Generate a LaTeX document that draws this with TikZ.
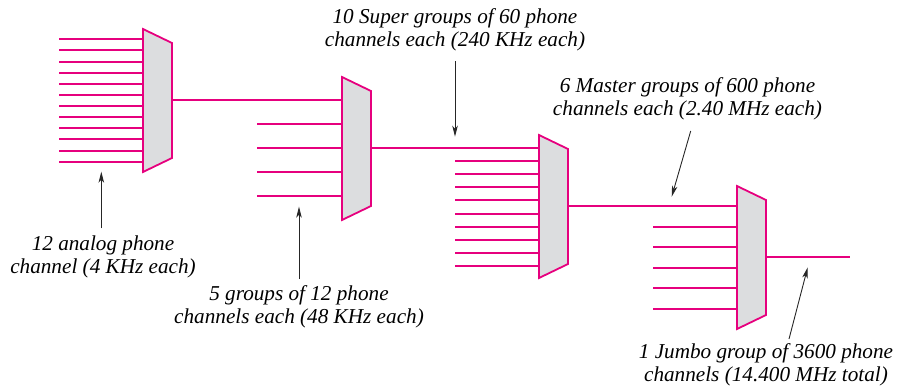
\documentclass[tikz,border=0pt]{standalone}
\usepackage{fontspec}
\setmainfont{Liberation Serif}
\usetikzlibrary{arrows.meta}
\definecolor{mag}{HTML}{E6007E}
\definecolor{muxgray}{HTML}{DCDDDF}
\tikzset{
  chan/.style={draw=mag, line width=1.8pt},
  muxbox/.style={draw=mag, fill=muxgray, line width=1.8pt, line join=miter},
  pointer/.style={draw=black!85, line width=0.9pt, -{Stealth[length=11pt,width=5.5pt,inset=3pt]}},
  lbl/.style={font=\fontsize{21.2}{23}\selectfont\itshape, align=center, inner sep=0pt, anchor=base},
}
% \muxunit{name}{x}{y}: trapezoid, top-left corner at (x,y)
\newcommand{\muxunit}[3]{%
  \coordinate (#1tl) at (#2,#3);
  \coordinate (#1bl) at (#2,#3+143);
  \coordinate (#1tr) at (#2+29,#3+14);
  \coordinate (#1br) at (#2+29,#3+129);
  \coordinate (#1out) at (#2+29,#3+71);
}
\begin{document}
\begin{tikzpicture}[x=1pt,y=-1pt]
\useasboundingbox (0,0) rectangle (904,389);
\muxunit{ma}{143}{29}
\muxunit{mb}{342}{77}
\muxunit{mc}{539}{135}
\muxunit{md}{737}{186}
% inputs of mux 1: 12 analog channels
\foreach \k in {0,...,11} {
  \coordinate (ain\k) at (59, {round(39.3+11.13*\k)});
  \draw[chan] (ain\k) -- (ain\k -| matl);
}
% mux1 -> mux2
\draw[chan] (maout) -- (maout -| mbtl);
\foreach \k in {1,...,4} {
  \coordinate (bin\k) at (257, 100+24*\k);
  \draw[chan] (bin\k) -- (bin\k -| mbtl);
}
% mux2 -> mux3
\draw[chan] (mbout) -- (mbout -| mctl);
\foreach \k in {1,...,9} {
  \coordinate (cin\k) at (455, {round(148+13.1*\k)});
  \draw[chan] (cin\k) -- (cin\k -| mctl);
}
% mux3 -> mux4
\draw[chan] (mcout) -- (mcout -| mdtl);
\foreach \k in {1,...,5} {
  \coordinate (din\k) at (653, {round(206+20.5*\k)});
  \draw[chan] (din\k) -- (din\k -| mdtl);
}
% output
\coordinate (jumbo) at (850, 257);
\draw[chan] (mdout) -- (jumbo);
% multiplexers
\path[muxbox] (matl) -- (matr) -- (mabr) -- (mabl) -- cycle;
\path[muxbox] (mbtl) -- (mbtr) -- (mbbr) -- (mbbl) -- cycle;
\path[muxbox] (mctl) -- (mctr) -- (mcbr) -- (mcbl) -- cycle;
\path[muxbox] (mdtl) -- (mdtr) -- (mdbr) -- (mdbl) -- cycle;
% labels (anchor = baseline of the last line)
\node[lbl] (t1) at (103, 273) {12 analog phone\\channel (4 KHz each)};
\node[lbl] (t2) at (299, 323.3) {5 groups of 12 phone\\channels each (48 KHz each)};
\node[lbl] (t3) at (455, 46.7) {10 Super groups of 60 phone\\channels each (240 KHz each)};
\node[lbl] (t4) at (687.5, 115.2) {6 Master groups of 600 phone\\channels each (2.40 MHz each)};
\node[lbl] (t5) at (766, 381.7) {1 Jumbo group of 3600 phone\\channels (14.400 MHz total)};
% pointers
\coordinate (p1a) at (101.3, 228.3); \coordinate (p1b) at (101.3, 171.7);
\coordinate (p2a) at (299, 279);     \coordinate (p2b) at (299, 206.7);
\coordinate (p3a) at (455, 61);      \coordinate (p3b) at (455, 136.7);
\coordinate (p4a) at (690.7, 131);   \coordinate (p4b) at (671.7, 196.7);
\coordinate (p5a) at (789, 339);     \coordinate (p5b) at (807.7, 267.3);
\draw[pointer] (p1a) -- (p1b);
\draw[pointer] (p2a) -- (p2b);
\draw[pointer] (p3a) -- (p3b);
\draw[pointer] (p4a) -- (p4b);
\draw[pointer] (p5a) -- (p5b);
\end{tikzpicture}
\end{document}
